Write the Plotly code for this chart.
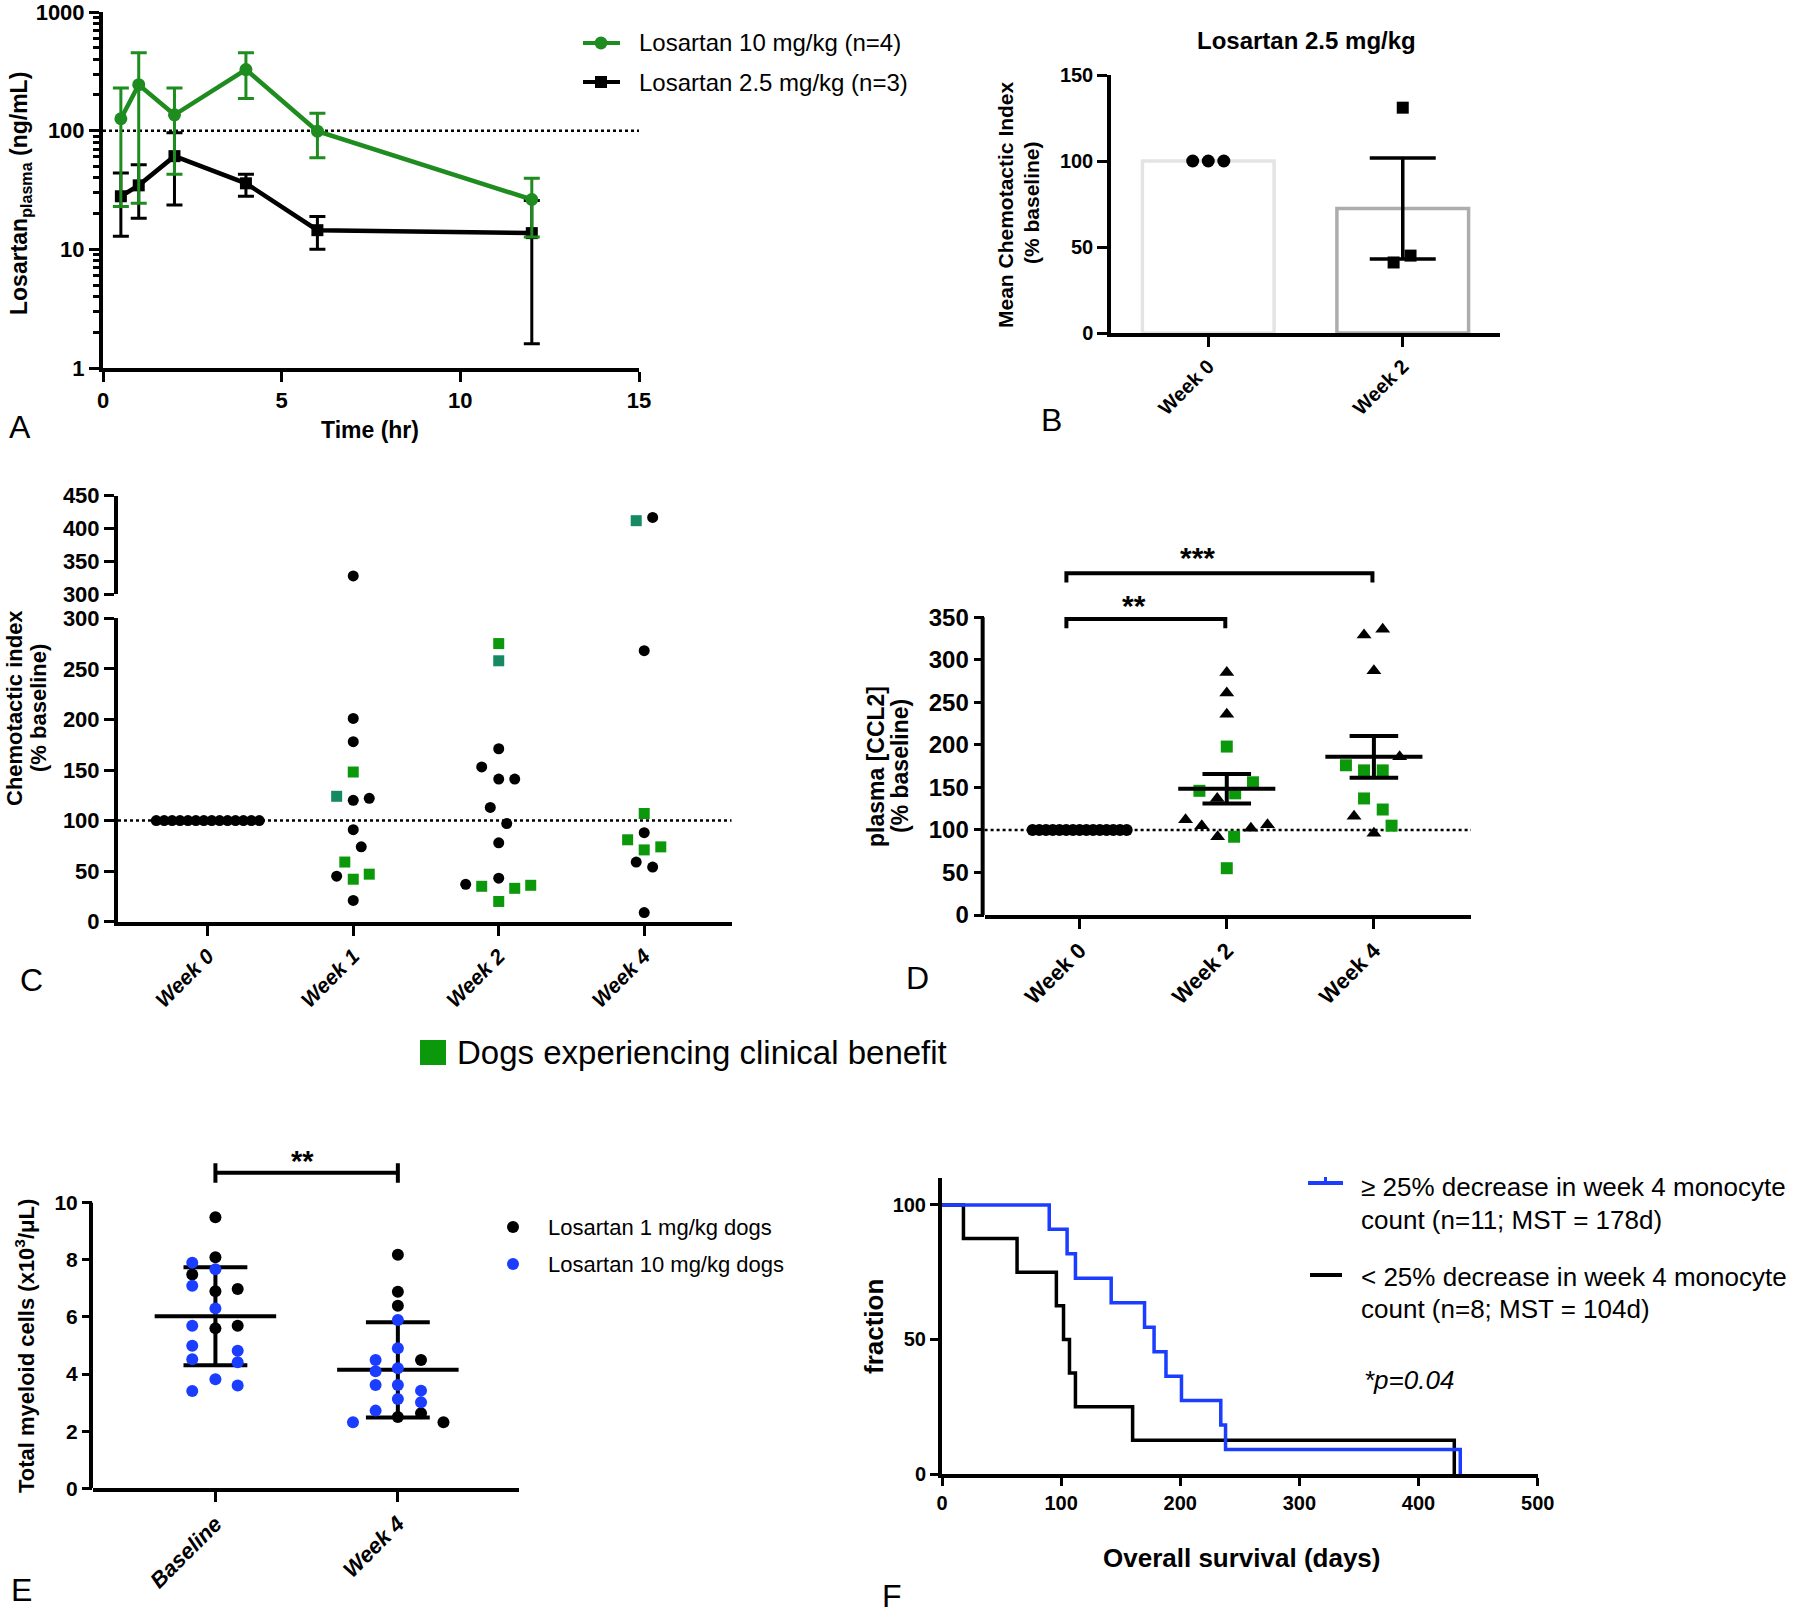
import numpy as np
import plotly.graph_objects as go

# Full-page figure; the default 8px body margin is removed after plotting.
W, H = 1800, 1614
OFF = 0
FONT = "Arial, 'Liberation Sans', Helvetica, sans-serif"
GREEN_LINE = "#1e8c1e"
GREEN = "#0b990b"
TEAL = "#158a62"
BLUE = "#1a3dff"
BLACK = "#000000"

# ---------------- Panel A : plasma losartan ----------------
a_time_hr = [0.5, 1, 2, 4, 6, 12]
a_10mg_mean = [126, 244, 136, 327, 99, 26.3]
a_10mg_upper = [229, 454, 229, 454, 140, 39.8]
a_10mg_lower = [23, 24.4, 43, 187, 59, 12.7]
a_25mg_mean = [28, 34.6, 61, 36, 14.5, 13.7]
a_25mg_upper = [44, 51.6, 96, 43, 18.9, 25.8]
a_25mg_lower = [12.9, 18.3, 23.6, 28, 10, 1.6]
a_reference_level = 100
a_y_tickvals = [1, 10, 100, 1000]
a_x_tickvals = [0, 5, 10, 15]
a_series_names = ["Losartan 10 mg/kg (n=4)", "Losartan 2.5 mg/kg (n=3)"]

# ---------------- Panel B ----------------
b_categories = ["Week 0", "Week 2"]
b_week0_values = [100, 100, 100]
b_week2_values = [131, 41, 45]
b_y_tickvals = [0, 50, 100, 150]

# ---------------- Panel C ----------------
c_categories = ["Week 0", "Week 1", "Week 2", "Week 4"]
c_week0_values = [100, 100, 100, 100, 100, 100, 100, 100, 100, 100, 100, 100, 100, 100]
c_week0_groups = ["k"] * 14
c_week1_values = [328, 201, 178, 148, 124, 120, 122, 91, 74, 59, 45, 42, 47, 21]
c_week1_groups = ["k", "k", "k", "g", "t", "k", "k", "k", "k", "g", "k", "g", "g", "k"]
c_week2_values = [275, 258, 171, 153, 141, 141, 113, 97, 78, 43, 37, 35, 20, 33, 36]
c_week2_groups = ["g", "t", "k", "k", "k", "k", "k", "k", "k", "k", "k", "g", "g", "g", "g"]
c_week4_values = [412, 417, 268, 107, 88, 81, 71, 74, 59, 54, 9]
c_week4_groups = ["t", "k", "k", "g", "k", "g", "g", "g", "k", "k", "k"]
c_axis_break = 300
c_reference_level = 100
c_y_lower_ticks = [0, 50, 100, 150, 200, 250, 300]
c_y_upper_ticks = [300, 350, 400, 450]

# ---------------- Panel D ----------------
d_categories = ["Week 0", "Week 2", "Week 4"]
d_week0_values = [100, 100, 100, 100, 100, 100, 100, 100, 100, 100, 100, 100, 100, 100, 100]
d_week0_groups = ["c"] * 15
d_week2_values = [285, 261, 236, 198, 146, 143, 156, 137, 112, 105, 92, 92, 102, 106, 55]
d_week2_groups = ["k", "k", "k", "g", "g", "g", "g", "k", "k", "k", "k", "g", "k", "k", "g"]
d_week4_values = [329, 336, 287, 186, 176, 170, 170, 137, 124, 116, 96, 105]
d_week4_groups = ["k", "k", "k", "k", "g", "g", "g", "g", "g", "k", "k", "g"]
d_reference_level = 100
d_y_tickvals = [0, 50, 100, 150, 200, 250, 300, 350]
d_brackets = [(0, 1, 348, "**"), (0, 2, 401.8, "***")]

# ---------------- Panel E ----------------
e_categories = ["Baseline", "Week 4"]
e_baseline_values = [9.49, 8.09, 7.9, 7.67, 7.49, 7.09, 6.98, 6.9, 6.3, 5.69, 5.69, 5.6,
                     4.99, 4.82, 4.52, 4.41, 3.82, 3.6, 3.41]
e_baseline_groups = ["1", "1", "10", "10", "1", "10", "1", "1", "10", "10", "1", "1",
                     "10", "10", "10", "10", "10", "10", "10"]
e_week4_values = [8.18, 6.88, 6.39, 5.89, 4.9, 4.49, 4.49, 4.2, 4.1, 3.62, 3.62, 3.42,
                  3.13, 3.01, 2.72, 2.63, 2.5, 2.31, 2.31]
e_week4_groups = ["1", "1", "1", "10", "10", "10", "1", "10", "10", "10", "10", "10",
                  "10", "10", "10", "1", "1", "10", "1"]
e_y_tickvals = [0, 2, 4, 6, 8, 10]
e_bracket = (0, 1, 11.05, "**")
e_group_names = {"1": "Losartan 1 mg/kg dogs", "10": "Losartan 10 mg/kg dogs"}

# ---------------- Panel F ----------------
f_ge25_death_days = [90, 105, 112, 142, 170, 178, 188, 201, 234, 238, 435]
f_lt25_death_days = [18, 63, 96, 102, 107, 112, 160, 430]
f_x_tickvals = [0, 100, 200, 300, 400, 500]
f_y_tickvals = [0, 50, 100]

# ---------- point jitter (layout only) ----------
c_week0_xoffset = list(np.linspace(-0.354, 0.354, 14))
c_week1_xoffset = [0, 0, 0, 0, -0.114, 0, 0.11, 0, 0.055, -0.058, -0.114, 0, 0.11, 0]
c_week2_xoffset = [0, 0, 0, -0.117, 0, 0.11, -0.058, 0.055, 0, 0, -0.227, -0.117, 0, 0.11, 0.22]
c_week4_xoffset = [-0.055, 0.058, 0, 0, 0, -0.114, 0, 0.114, -0.055, 0.058, 0]
d_week0_xoffset = list(np.linspace(-0.32, 0.32, 15))
d_week2_xoffset = [0, 0, 0, 0, -0.186, 0.057, 0.178, -0.065, -0.28, -0.17, -0.062, 0.05, 0.164, 0.277, 0]
d_week4_xoffset = [-0.067, 0.06, 0, 0.175, -0.19, -0.067, 0.06, -0.067, 0.06, -0.135, 0, 0.12]
e_baseline_xoffset = [0, 0, -0.127, 0, -0.127, -0.127, 0.122, 0, 0, -0.127, 0.122, 0,
                      -0.127, 0.122, -0.127, 0.122, 0, 0.122, -0.127]
e_week4_xoffset = [0, 0, 0, 0, 0, -0.122, 0.127, 0, -0.122, -0.122, 0, 0.127, 0, 0.127,
                   -0.122, 0.127, 0, -0.246, 0.25]
b_week0_xoffset = [-0.08, 0, 0.08]
b_week2_xoffset = [0, -0.047, 0.04]


def PX(x):
    return (x - OFF) / W


def PY(y):
    return 1 - (y - OFF) / H


def dom_x(x0, x1):
    return [PX(x0), PX(x1)]


def dom_y(top, bottom):
    return [PY(bottom), PY(top)]


def font(size, bold=False, italic=False, color=BLACK):
    return dict(family=FONT, size=size, color=color,
                weight="bold" if bold else "normal",
                style="italic" if italic else "normal")


def axis(**kw):
    base = dict(showline=True, linecolor=BLACK, linewidth=4, ticks="outside",
                tickwidth=3, ticklen=10, tickcolor=BLACK, showgrid=False,
                zeroline=False, fixedrange=True, automargin=False,
                ticklabeloverflow="allow", tickfont=font(22, bold=True))
    base.update(kw)
    return base


fig = go.Figure()

# ================= Panel A =================
a_hi = np.array(a_10mg_mean)
a_lo = np.array(a_25mg_mean)
fig.add_trace(go.Scatter(
    x=a_time_hr, y=a_25mg_mean, name=a_series_names[1], mode="lines+markers",
    line=dict(color=BLACK, width=4.5), marker=dict(symbol="square", size=12, color=BLACK),
    error_y=dict(type="data", symmetric=False, array=list(np.array(a_25mg_upper) - a_lo),
                 arrayminus=list(a_lo - np.array(a_25mg_lower)), color=BLACK, thickness=3, width=8),
    xaxis="x", yaxis="y", cliponaxis=False, showlegend=False))
fig.add_trace(go.Scatter(
    x=a_time_hr, y=a_10mg_mean, name=a_series_names[0], mode="lines+markers",
    line=dict(color=GREEN_LINE, width=4.5), marker=dict(symbol="circle", size=13, color=GREEN_LINE),
    error_y=dict(type="data", symmetric=False, array=list(np.array(a_10mg_upper) - a_hi),
                 arrayminus=list(a_hi - np.array(a_10mg_lower)), color=GREEN_LINE, thickness=3, width=8),
    xaxis="x", yaxis="y", cliponaxis=False, showlegend=False))

# ================= Panel B =================
b_groups = [b_week0_values, b_week2_values]
b_means = [float(np.mean(v)) for v in b_groups]
b_sems = [float(np.std(v, ddof=1) / np.sqrt(len(v))) for v in b_groups]
fig.add_trace(go.Bar(
    x=[0, 1], y=b_means, width=0.677, name="mean",
    marker=dict(color="white", line=dict(color=["#e4e4e4", "#adadad"], width=3.5)),
    xaxis="x2", yaxis="y2", showlegend=False))
fig.add_trace(go.Scatter(
    x=[1], y=[b_means[1]], mode="markers", marker=dict(size=1, color="rgba(0,0,0,0)"),
    error_y=dict(type="data", array=[b_sems[1]], color=BLACK, thickness=3.5, width=33),
    xaxis="x2", yaxis="y2", showlegend=False, name="SEM"))
fig.add_trace(go.Scatter(
    x=[0 + o for o in b_week0_xoffset], y=b_week0_values, mode="markers",
    marker=dict(symbol="circle", size=13, color=BLACK), xaxis="x2", yaxis="y2",
    cliponaxis=False, showlegend=False, name="Week 0"))
fig.add_trace(go.Scatter(
    x=[1 + o for o in b_week2_xoffset], y=b_week2_values, mode="markers",
    marker=dict(symbol="square", size=12, color=BLACK), xaxis="x2", yaxis="y2",
    cliponaxis=False, showlegend=False, name="Week 2"))

# ================= Panel C =================
c_weeks = [(c_week0_values, c_week0_groups, c_week0_xoffset),
           (c_week1_values, c_week1_groups, c_week1_xoffset),
           (c_week2_values, c_week2_groups, c_week2_xoffset),
           (c_week4_values, c_week4_groups, c_week4_xoffset)]
c_style = {"k": dict(symbol="circle", color=BLACK, size=11),
           "g": dict(symbol="square", color=GREEN, size=11),
           "t": dict(symbol="square", color=TEAL, size=11)}
for grp in ["k", "t", "g"]:
    for high, (xa, ya) in ((False, ("x3", "y3")), (True, ("x4", "y4"))):
        xs, ys = [], []
        for i, (vals, grps, offs) in enumerate(c_weeks):
            for v, g, o in zip(vals, grps, offs):
                if g == grp and (v > c_axis_break) == high:
                    xs.append(i + o)
                    ys.append(v)
        if xs:
            fig.add_trace(go.Scatter(x=xs, y=ys, mode="markers", marker=c_style[grp],
                                     xaxis=xa, yaxis=ya, cliponaxis=False, showlegend=False,
                                     name="clinical benefit" if grp != "k" else "other"))

# ================= Panel D =================
d_weeks = [(d_week0_values, d_week0_groups, d_week0_xoffset),
           (d_week2_values, d_week2_groups, d_week2_xoffset),
           (d_week4_values, d_week4_groups, d_week4_xoffset)]
d_style = {"c": dict(symbol="circle", color=BLACK, size=12),
           "k": dict(symbol="triangle-up", color=BLACK, size=13),
           "g": dict(symbol="square", color=GREEN, size=12)}
for grp in ["c", "k", "g"]:
    xs, ys = [], []
    for i, (vals, grps, offs) in enumerate(d_weeks):
        for v, g, o in zip(vals, grps, offs):
            if g == grp:
                xs.append(i + o)
                ys.append(v)
    fig.add_trace(go.Scatter(x=xs, y=ys, mode="markers", marker=d_style[grp],
                             xaxis="x5", yaxis="y5", cliponaxis=False, showlegend=False,
                             name=grp))
# mean +/- SEM
seg_x, seg_y = [], []
for i, (vals, grps, offs) in enumerate(d_weeks):
    if i == 0:
        continue
    m = float(np.mean(vals))
    s = float(np.std(vals, ddof=1) / np.sqrt(len(vals)))
    seg_x += [i - 0.33, i + 0.33, None, i, i, None, i - 0.165, i + 0.165, None, i - 0.165, i + 0.165, None]
    seg_y += [m, m, None, m - s, m + s, None, m + s, m + s, None, m - s, m - s, None]
fig.add_trace(go.Scatter(x=seg_x, y=seg_y, mode="lines", line=dict(color=BLACK, width=4),
                         xaxis="x5", yaxis="y5", showlegend=False, name="mean ± SEM"))
# significance brackets
for (i, j, yv, lab) in d_brackets:
    fig.add_trace(go.Scatter(x=[i - 0.09, i - 0.09, j - 0.01, j - 0.01],
                             y=[yv - 11, yv, yv, yv - 11], mode="lines",
                             line=dict(color=BLACK, width=4), xaxis="x5", yaxis="y5",
                             showlegend=False, name=lab))

# ================= Panel E =================
e_weeks = [(e_baseline_values, e_baseline_groups, e_baseline_xoffset),
           (e_week4_values, e_week4_groups, e_week4_xoffset)]
seg_x, seg_y = [], []
for i, (vals, grps, offs) in enumerate(e_weeks):
    m = float(np.mean(vals))
    s = float(np.std(vals, ddof=1))
    seg_x += [i - 0.333, i + 0.333, None, i, i, None, i - 0.175, i + 0.175, None, i - 0.175, i + 0.175, None]
    seg_y += [m, m, None, m - s, m + s, None, m + s, m + s, None, m - s, m - s, None]
fig.add_trace(go.Scatter(x=seg_x, y=seg_y, mode="lines", line=dict(color=BLACK, width=4),
                         xaxis="x6", yaxis="y6", showlegend=False, name="mean ± SD"))
e_colors = {"1": BLACK, "10": BLUE}
for grp in ["1", "10"]:
    xs, ys = [], []
    for i, (vals, grps, offs) in enumerate(e_weeks):
        for v, g, o in zip(vals, grps, offs):
            if g == grp:
                xs.append(i + o)
                ys.append(v)
    fig.add_trace(go.Scatter(x=xs, y=ys, mode="markers",
                             marker=dict(symbol="circle", size=12, color=e_colors[grp]),
                             xaxis="x6", yaxis="y6", cliponaxis=False, showlegend=False,
                             name=e_group_names[grp]))
ei, ej, ey, elab = e_bracket
fig.add_trace(go.Scatter(x=[ei, ei, None, ei, ej, None, ej, ej],
                         y=[ey - 0.35, ey + 0.33, None, ey, ey, None, ey - 0.35, ey + 0.33],
                         mode="lines", line=dict(color=BLACK, width=4), xaxis="x6", yaxis="y6",
                         showlegend=False, name=elab))


# ================= Panel F =================
def km_steps(days):
    n = len(days)
    xs, ys = [0], [100.0]
    for k, d in enumerate(sorted(days), 1):
        xs.append(d)
        ys.append(100.0 * (n - k) / n)
    return xs, ys


fx, fy = km_steps(f_lt25_death_days)
fig.add_trace(go.Scatter(x=fx, y=fy, mode="lines", line=dict(color=BLACK, width=3.5, shape="hv"),
                         xaxis="x7", yaxis="y7", showlegend=False,
                         name="< 25% decrease in week 4 monocyte count"))
fx, fy = km_steps(f_ge25_death_days)
fig.add_trace(go.Scatter(x=fx, y=fy, mode="lines", line=dict(color=BLUE, width=3.5, shape="hv"),
                         xaxis="x7", yaxis="y7", showlegend=False,
                         name="≥ 25% decrease in week 4 monocyte count"))

# ================= Layout =================
a_minor = [m * d for d in (1, 10, 100) for m in range(2, 10)]
layout = dict(
    template="none",
    width=W, height=H, margin=dict(l=0, r=0, t=0, b=0, autoexpand=False),
    paper_bgcolor="white", plot_bgcolor="white", showlegend=False,
    font=dict(family=FONT, color=BLACK),
    xaxis=axis(domain=dom_x(103, 639), range=[0, 15], anchor="y", tickvals=a_x_tickvals,
               tickfont=font(22, bold=True)),
    yaxis=axis(domain=dom_y(12, 368), type="log", range=[0, 3], anchor="x",
               tickvals=a_y_tickvals, ticktext=[str(v) for v in a_y_tickvals],
               tickfont=font(22, bold=True),
               minor=dict(ticks="outside", ticklen=6, tickwidth=2.5, tickcolor=BLACK,
                          tickvals=a_minor, showgrid=False)),
    xaxis2=axis(domain=dom_x(1111, 1500), range=[-0.5, 1.5], anchor="y2", tickvals=[0, 1],
                ticktext=b_categories, tickangle=-45, tickfont=font(20, bold=True), linewidth=3.5),
    yaxis2=axis(domain=dom_y(75, 333), range=[0, 150], anchor="x2", tickvals=b_y_tickvals,
                tickfont=font(20, bold=True), linewidth=3.5),
    xaxis3=axis(domain=dom_x(118, 731.5), range=[-0.617, 3.6], anchor="y3", tickvals=[0, 1, 2, 3],
                ticktext=c_categories, tickangle=-45, tickfont=font(21, bold=True, italic=True)),
    yaxis3=axis(domain=dom_y(618.3, 921.7), range=[0, 300], anchor="x3", tickvals=c_y_lower_ticks,
                tickfont=font(22, bold=True)),
    xaxis4=dict(domain=dom_x(118, 731.5), range=[-0.617, 3.6], anchor="y4", visible=False,
                fixedrange=True, automargin=False),
    yaxis4=axis(domain=dom_y(495.7, 594.3), range=[300, 450], anchor="x4", tickvals=c_y_upper_ticks,
                tickfont=font(22, bold=True)),
    xaxis5=axis(domain=dom_x(984.6, 1471), range=[-0.646, 2.66], anchor="y5", tickvals=[0, 1, 2],
                ticktext=d_categories, tickangle=-45, tickfont=font(22, bold=True)),
    yaxis5=axis(domain=dom_y(549.2, 915), range=[0, 430], anchor="x5", tickvals=d_y_tickvals,
                showline=False, tickfont=font(24, bold=True)),
    xaxis6=axis(domain=dom_x(93, 519), range=[-0.671, 1.664], anchor="y6", tickvals=[0, 1],
                ticktext=e_categories, tickangle=-45, tickfont=font(22, bold=True, italic=True)),
    yaxis6=axis(domain=dom_y(1145.6, 1488.3), range=[0, 12], anchor="x6", tickvals=e_y_tickvals,
                showline=False, tickfont=font(21, bold=True)),
    xaxis7=axis(domain=dom_x(942, 1537.7), range=[0, 500], anchor="y7", tickvals=f_x_tickvals,
                ticklen=8, tickfont=font(20, bold=True)),
    yaxis7=axis(domain=dom_y(1178, 1474), range=[0, 110], anchor="x7", tickvals=f_y_tickvals,
                ticklen=8, tickfont=font(20, bold=True)),
)
fig.update_layout(**layout)

shapes = []
# reference (dotted) lines
shapes.append(dict(type="line", xref="x domain", x0=0, x1=1, yref="y",
                   y0=a_reference_level, y1=a_reference_level,
                   line=dict(color=BLACK, width=2.5, dash="dot"), layer="below"))
shapes.append(dict(type="line", xref="x3 domain", x0=0, x1=1, yref="y3",
                   y0=c_reference_level, y1=c_reference_level,
                   line=dict(color=BLACK, width=2.5, dash="dot"), layer="below"))
shapes.append(dict(type="line", xref="x5 domain", x0=0, x1=1, yref="y5",
                   y0=d_reference_level, y1=d_reference_level,
                   line=dict(color=BLACK, width=2.5, dash="dot"), layer="below"))
# partial y-axis lines for D and E
shapes.append(dict(type="line", xref="x5 domain", x0=-0.004, x1=-0.004, yref="y5",
                   y0=0, y1=max(d_y_tickvals), line=dict(color=BLACK, width=4)))
shapes.append(dict(type="line", xref="x6 domain", x0=-0.0047, x1=-0.0047, yref="y6",
                   y0=0, y1=max(e_y_tickvals), line=dict(color=BLACK, width=4)))


def pline(x0, y0, x1, y1, color, width):
    return dict(type="line", xref="paper", yref="paper", x0=PX(x0), x1=PX(x1), y0=PY(y0),
                y1=PY(y1), line=dict(color=color, width=width))


def pcircle(cx, cy, r, color):
    return dict(type="circle", xref="paper", yref="paper", x0=PX(cx - r), x1=PX(cx + r),
                y0=PY(cy + r), y1=PY(cy - r), fillcolor=color, line=dict(width=0))


def prect(x0, y0, x1, y1, color):
    return dict(type="rect", xref="paper", yref="paper", x0=PX(x0), x1=PX(x1),
                y0=PY(y1), y1=PY(y0), fillcolor=color, line=dict(width=0))


# legend A
shapes += [pline(583, 43, 620, 43, GREEN_LINE, 4), pcircle(601, 43, 6.5, GREEN_LINE),
           pline(583, 82, 620, 82, BLACK, 4), prect(595, 76, 607, 88, BLACK)]
# clinical benefit legend
shapes.append(prect(420, 1040, 446, 1065, GREEN))
# legend E
shapes += [pcircle(513, 1227, 6, BLACK), pcircle(513, 1264, 6, BLUE)]
# legend F
shapes += [pline(1308, 1183, 1343, 1183, BLUE, 4), pline(1325.5, 1177, 1325.5, 1183, BLUE, 3),
           pline(1310, 1275, 1342, 1275, BLACK, 4)]
fig.update_layout(shapes=shapes)


def ann(x, y, s, size, bold=False, italic=False, angle=0, xanchor="center", yanchor="middle"):
    return dict(x=PX(x), y=PY(y), xref="paper", yref="paper", text=s, showarrow=False,
                textangle=angle, xanchor=xanchor, yanchor=yanchor,
                font=font(size, bold=bold, italic=italic))


annotations = [
    # panel letters
    ann(20, 427, "A", 32), ann(1051, 420, "B", 32), ann(31, 980, "C", 32),
    ann(917, 978, "D", 32), ann(21, 1590, "E", 32), ann(892, 1596, "F", 32),
    # panel A
    ann(21, 194, "Losartan<sub>plasma</sub> (ng/mL)", 23, bold=True, angle=-90),
    ann(370, 430, "Time (hr)", 23, bold=True),
    ann(637, 43, a_series_names[0], 24, xanchor="left"),
    ann(637, 82, a_series_names[1], 24, xanchor="left"),
    # panel B
    ann(1306, 41, "Losartan 2.5 mg/kg", 24, bold=True),
    ann(1006, 205, "Mean Chemotactic Index", 21, bold=True, angle=-90),
    ann(1031, 203, "(% baseline)", 21, bold=True, angle=-90),
    # panel C
    ann(14, 708, "Chemotactic index", 22, bold=True, angle=-90),
    ann(38, 708, "(% baseline)", 22, bold=True, angle=-90),
    # panel D
    ann(876, 767, "plasma [CCL2]", 23, bold=True, angle=-90),
    ann(900, 766, "(% baseline)", 23, bold=True, angle=-90),
    # clinical benefit legend
    ann(455, 1052, "Dogs experiencing clinical benefit", 33, xanchor="left"),
    # panel E
    ann(25, 1346, "Total myeloid cells (x10<sup>3</sup>/μL)", 22, bold=True, angle=-90),
    ann(546, 1227, e_group_names["1"], 22, xanchor="left"),
    ann(546, 1264, e_group_names["10"], 22, xanchor="left"),
    # panel F
    ann(874, 1327, "fraction", 26, bold=True, angle=-90),
    ann(1241, 1558, "Overall survival (days)", 26, bold=True),
    ann(1359, 1187, "≥ 25% decrease in week 4 monocyte", 26, xanchor="left"),
    ann(1359, 1220, "count (n=11; MST = 178d)", 26, xanchor="left"),
    ann(1359, 1277, "< 25% decrease in week 4 monocyte", 26, xanchor="left"),
    ann(1359, 1309, "count (n=8; MST = 104d)", 26, xanchor="left"),
    ann(1362, 1380, "*p=0.04", 26, italic=True, xanchor="left"),
]
# significance labels (data coordinates)
d_label_pos = {"**": (0.371, 364), "***": (0.802, 420)}
for (i, j, yv, lab) in d_brackets:
    lx, ly = d_label_pos[lab]
    annotations.append(dict(x=lx, y=ly, xref="x5", yref="y5", text=lab, showarrow=False,
                            font=font(30, bold=True), xanchor="center", yanchor="middle"))
annotations.append(dict(x=0.476, y=11.45, xref="x6", yref="y6", text=elab, showarrow=False,
                        font=font(29, bold=True), xanchor="center", yanchor="middle"))
fig.update_layout(annotations=annotations)

fig.write_html("out.html", config={"displayModeBar": False},
               post_script="document.body.style.margin='0px';document.body.style.overflow='hidden';")
